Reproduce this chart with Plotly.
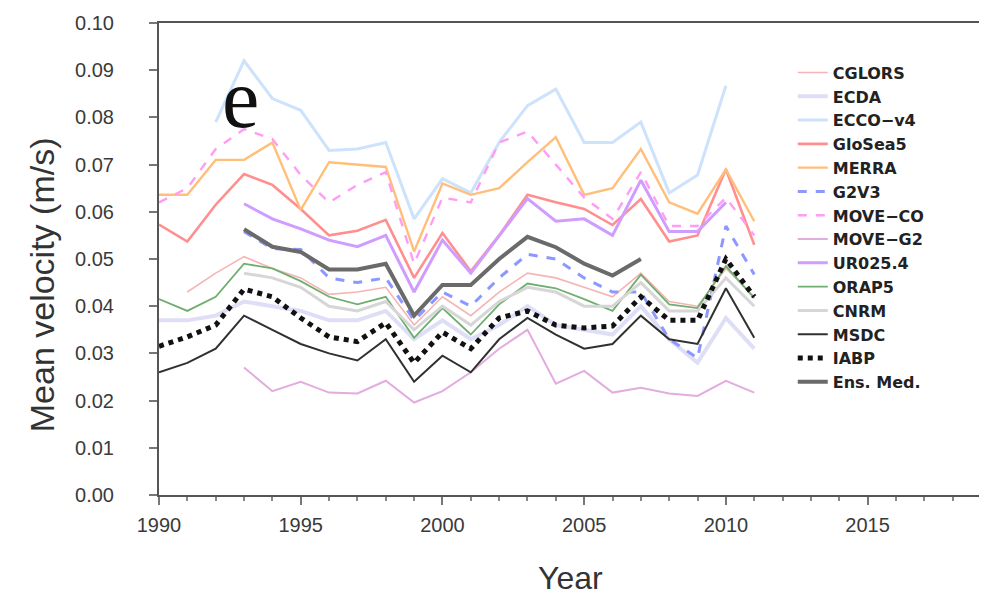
import plotly.graph_objects as go

# ---- data ----
years_90 = list(range(1990, 2012))
years_91 = list(range(1991, 2012))
years_92_10 = list(range(1992, 2011))
years_93 = list(range(1993, 2012))
years_93_10 = list(range(1993, 2011))
years_93_07 = list(range(1993, 2008))

cglors = [0.043, 0.047, 0.0505, 0.048, 0.046, 0.0425, 0.043, 0.044, 0.036, 0.042, 0.038,
          0.043, 0.047, 0.046, 0.044, 0.042, 0.047, 0.041, 0.040, 0.048, 0.042]
ecda = [0.037, 0.037, 0.038, 0.041, 0.040, 0.039, 0.037, 0.037, 0.039, 0.033, 0.037,
        0.033, 0.036, 0.040, 0.036, 0.035, 0.034, 0.040, 0.033, 0.028, 0.0375, 0.031]
ecco = [0.079, 0.092, 0.084, 0.0815, 0.073, 0.0733, 0.0747, 0.0585, 0.067, 0.064,
        0.0747, 0.0825, 0.086, 0.0747, 0.0747, 0.079, 0.064, 0.0678, 0.0867]
glosea = [0.0573, 0.0537, 0.0615, 0.068, 0.0657, 0.0606, 0.055, 0.056, 0.0583, 0.046, 0.0555,
          0.0474, 0.055, 0.0636, 0.062, 0.0606, 0.0572, 0.0627, 0.0537, 0.055, 0.069, 0.053]
merra = [0.0636, 0.0636, 0.071, 0.071, 0.0747, 0.0604, 0.0705, 0.070, 0.0695, 0.0516, 0.066,
         0.0636, 0.065, 0.0705, 0.0758, 0.0636, 0.065, 0.0733, 0.062, 0.0596, 0.069, 0.058]
g2v3 = [0.0558, 0.0522, 0.052, 0.046, 0.045, 0.046, 0.037, 0.043, 0.040, 0.046,
        0.051, 0.050, 0.046, 0.043, 0.043, 0.033, 0.029, 0.057, 0.0467]
move_co = [0.062, 0.065, 0.0733, 0.0775, 0.0754, 0.0678, 0.062, 0.0657, 0.0684, 0.049, 0.063,
           0.062, 0.0747, 0.077, 0.070, 0.063, 0.0585, 0.0684, 0.057, 0.057, 0.063, 0.055]
move_g2 = [0.027, 0.022, 0.024, 0.0217, 0.0215, 0.0242, 0.0196, 0.022, 0.026, 0.031,
           0.035, 0.0236, 0.0263, 0.0217, 0.0227, 0.0215, 0.021, 0.0242, 0.0217]
ur025 = [0.0617, 0.0585, 0.0564, 0.054, 0.0526, 0.055, 0.043, 0.054, 0.047, 0.055,
         0.0628, 0.058, 0.0585, 0.055, 0.0667, 0.0558, 0.0558, 0.062]
orap5 = [0.0415, 0.039, 0.042, 0.049, 0.048, 0.0453, 0.042, 0.0404, 0.042, 0.0333, 0.0396,
         0.034, 0.0404, 0.0448, 0.0438, 0.0415, 0.039, 0.0467, 0.0404, 0.0396, 0.0485, 0.0417]
cnrm = [0.047, 0.046, 0.044, 0.040, 0.039, 0.041, 0.035, 0.040, 0.036, 0.041,
        0.044, 0.043, 0.040, 0.040, 0.045, 0.039, 0.039, 0.046, 0.040]
msdc = [0.026, 0.028, 0.031, 0.038, 0.035, 0.032, 0.030, 0.0285, 0.033, 0.024, 0.0295,
        0.026, 0.033, 0.0375, 0.034, 0.031, 0.032, 0.038, 0.033, 0.032, 0.0438, 0.0333]
iabp = [0.0315, 0.0335, 0.036, 0.0436, 0.042, 0.0375, 0.0335, 0.0325, 0.0365, 0.028, 0.0345,
        0.031, 0.0375, 0.039, 0.036, 0.0354, 0.0358, 0.042, 0.037, 0.037, 0.050, 0.042]
ens_med = [0.0563, 0.0526, 0.0515, 0.0478, 0.0478, 0.049, 0.038, 0.0445, 0.0445, 0.050,
           0.0547, 0.0525, 0.049, 0.0465, 0.050]

x_ticks = [1990, 1995, 2000, 2005, 2010, 2015]
y_ticks = [0.00, 0.01, 0.02, 0.03, 0.04, 0.05, 0.06, 0.07, 0.08, 0.09, 0.10]

series = [
    ("CGLORS", years_91, cglors, "#f6b4b4", 1.6, "solid"),
    ("ECDA", years_90, ecda, "#dedef6", 4, "solid"),
    ("ECCO−v4", years_92_10, ecco, "#cde2fb", 3, "solid"),
    ("GloSea5", years_90, glosea, "#ff8f8f", 2.6, "solid"),
    ("MERRA", years_90, merra, "#ffbf7a", 2.4, "solid"),
    ("G2V3", years_93, g2v3, "#8c98ff", 3, "dash"),
    ("MOVE−CO", years_90, move_co, "#ff9cf4", 2.4, "dash"),
    ("MOVE−G2", years_93, move_g2, "#e3acdf", 2, "solid"),
    ("UR025.4", years_93_10, ur025, "#cf9cff", 3, "solid"),
    ("ORAP5", years_90, orap5, "#6fae6f", 1.8, "solid"),
    ("CNRM", years_93, cnrm, "#d6d6d6", 3, "solid"),
    ("MSDC", years_90, msdc, "#303030", 2, "solid"),
    ("IABP", years_90, iabp, "#111111", 5, "dot"),
    ("Ens. Med.", years_93_07, ens_med, "#6a6a6a", 4, "solid"),
]

fig = go.Figure()
for name, xs, ys, color, width, dash in series:
    fig.add_trace(go.Scatter(x=xs, y=ys, mode="lines", name=name,
                             line=dict(color=color, width=width, dash=dash)))

font_fam = "Liberation Sans, Arial, sans-serif"
axis_common = dict(showline=True, linecolor="#555555", linewidth=2, mirror=True,
                   showgrid=False, zeroline=False, ticks="outside", tickcolor="#777777",
                   tickwidth=1.5, ticklen=8,
                   tickfont=dict(family=font_fam, size=20, color="#3a3a3a"))

# page body has an 8px margin, so the figure is sized/offset to compensate
fig.update_layout(
    width=979, height=590,
    margin=dict(l=151, r=4, t=12, b=103),
    paper_bgcolor="white", plot_bgcolor="white",
    showlegend=True,
    legend=dict(x=0.771, y=0.931, xanchor="left", yanchor="top",
                bgcolor="rgba(0,0,0,0)", borderwidth=0, tracegroupgap=0,
                font=dict(family="DejaVu Sans, sans-serif", size=16, color="#222222",
                          weight="bold")),
    xaxis=dict(range=[1990, 2019], tickvals=x_ticks, ticklabelstandoff=3,
               minor=dict(dtick=1, ticks="outside", ticklen=4, tickcolor="#888888"),
               **axis_common),
    yaxis=dict(range=[0, 0.1], tickvals=y_ticks, tickformat=".2f", ticklabelstandoff=31,
               **axis_common),
    annotations=[
        dict(text="Year", xref="paper", yref="paper", x=0.5, y=-0.175, xanchor="center",
             yanchor="middle", showarrow=False,
             font=dict(family=font_fam, size=32, color="#333333")),
        dict(text="Mean velocity (m/s)", xref="paper", yref="paper", x=(42 - 159) / 824,
             y=0.445, xanchor="center", yanchor="middle", textangle=-90, showarrow=False,
             font=dict(family=font_fam, size=34, color="#333333")),
        dict(text="e", xref="paper", yref="paper", x=(241 - 159) / 824, y=(495 - 96) / 475,
             xanchor="center", yanchor="middle", showarrow=False,
             font=dict(family="Liberation Serif, Times New Roman, serif", size=84, color="#111111")),
    ],
)

fig.write_html("out.html")
